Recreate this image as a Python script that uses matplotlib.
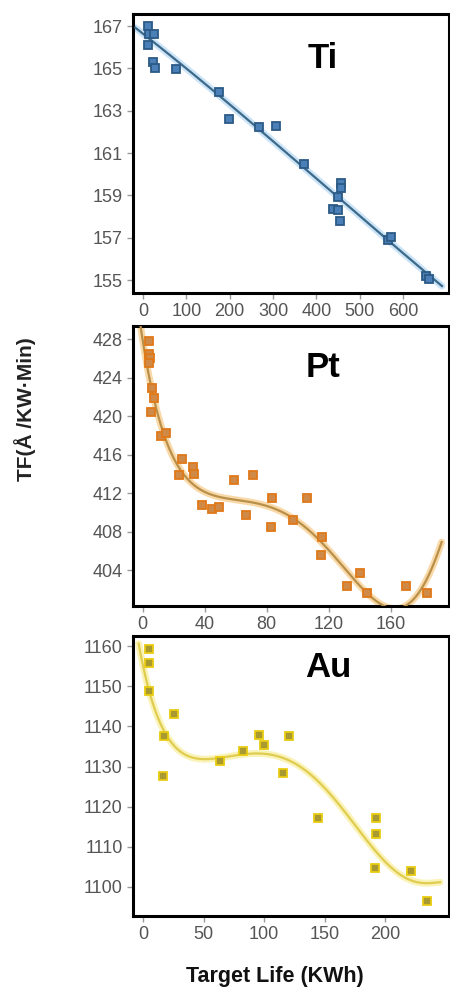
import matplotlib.pyplot as plt
import numpy as np

plt.rcParams['font.family'] = ['Liberation Sans', 'DejaVu Sans']

ti_x = [11.6, 14.7, 24.7, 11.6, 23, 27, 77, 175, 198, 268, 306, 372,
        457, 457, 449, 439, 449, 454, 565, 572, 654, 659]
ti_y = [167.0, 166.65, 166.65, 166.1, 165.3, 165.0, 164.95, 163.9, 162.6, 162.25, 162.28, 160.5,
        159.6, 159.35, 158.95, 158.35, 158.3, 157.8, 156.9, 157.05, 155.2, 155.05]
ti_fit_x = [-17.7, 17, 78.7, 171, 271.6, 372, 449, 519, 596, 690]
ti_fit_y = [167.2, 166.26, 165.0, 163.74, 162.3, 160.5, 159.0, 157.5, 156.1, 154.9]

# Pt panel
pt_x = [4.1, 4.1, 4.5, 4.1, 6.2, 7.3, 5.2, 11.8, 14.8, 25.2, 23.4, 32.3, 33.1, 38.5, 44.5,
        49.2, 59.1, 66.5, 71.0, 83.2, 82.8, 97.2, 106.2, 115.5, 114.8, 132, 140.2, 145,
        169.7, 183.7]
pt_y = [427.86, 426.5, 426.1, 425.6, 423.0, 421.9, 420.5, 418.0, 418.3, 415.6, 413.9, 414.75,
        414.05, 410.8, 410.4, 410.6, 413.4, 409.7, 413.9, 411.5, 408.5, 409.2, 411.5, 407.4,
        405.6, 402.3, 403.65, 401.6, 402.3, 401.6]
pt_fit_x = [-1.7, 2.6, 7.9, 13.3, 19.7, 28.4, 39.1, 52, 67.1, 82.1, 95, 105.8, 116.5,
            129.4, 142.3, 155.2, 163.9, 172.5, 183.2, 192.9]
pt_fit_y = [429.5, 426.0, 420.8, 418.0, 416.0, 413.9, 412.1, 411.3, 411.1, 410.75, 409.7,
            408.3, 406.6, 404.2, 402.1, 400.5, 399.9, 400.5, 403.1, 406.9]

# Au panel
au_x = [5.2, 5.2, 4.7, 25.9, 17.1, 16.2, 63.8, 82.3, 95.5, 100.4, 120.8, 115.3, 144.2,
        192.3, 192.3, 191.7, 221.2, 234.9]
au_y = [1159.4, 1155.7, 1148.8, 1143.0, 1137.6, 1127.6, 1131.3, 1133.9, 1137.8, 1135.3,
        1137.6, 1128.4, 1117.3, 1117.3, 1113.1, 1104.8, 1104.0, 1096.5]
au_fit_x = [-3.6, 0.5, 6.0, 14.3, 25.3, 39, 55.5, 66.5, 83, 102.3, 116, 132.5, 149,
            165.6, 182, 198.6, 215, 231.6, 245.4]
au_fit_y = [1161.1, 1154.4, 1147.0, 1140.3, 1136.1, 1133.3, 1131.6, 1131.3, 1132.8, 1133.6,
            1132.8, 1129.5, 1124.5, 1118.7, 1112.9, 1107.1, 1102.9, 1100.4, 1101.4]

panels = [
    dict(name='Ti', x=ti_x, y=ti_y, fx=ti_fit_x, fy=ti_fit_y, deg=3,
         rect=[0.2956, 0.7034, 0.702, 0.2824],
         xlim=(-23, 706), ylim=(154.39, 167.57), xt=np.arange(0, 601, 100), yt=np.arange(155, 168, 2),
         mface='#4a7fb8', medge='#2c5a85', lc='#3e6a8a', glow='#a9d2f2', lx=0.60, ly=0.84),
    dict(name='Pt', x=pt_x, y=pt_y, fx=pt_fit_x, fy=pt_fit_y, deg=7,
         rect=[0.2956, 0.387, 0.702, 0.283],
         xlim=(-6.3, 197.6), ylim=(400.3, 429.4), xt=np.arange(0, 161, 40), yt=np.arange(404, 429, 4),
         mface='#d08a48', medge='#e07818', lc='#b8904a', glow='#f8c070', lx=0.60, ly=0.85),
    dict(name='Au', x=au_x, y=au_y, fx=au_fit_x, fy=au_fit_y, deg=7,
         rect=[0.2956, 0.0732, 0.702, 0.283],
         xlim=(-8.25, 252.8), ylim=(1092.85, 1162.5), xt=np.arange(0, 201, 50), yt=np.arange(1100, 1161, 10),
         mface='#a89a30', medge='#e8cc10', lc='#e0cc50', glow='#f8ec88', lx=0.617, ly=0.886),
]

fig = plt.figure(figsize=(4.5, 9.88), dpi=100)

for p in panels:
    ax = fig.add_axes(p['rect'])
    coef = np.polyfit(p['fx'], p['fy'], p['deg'])
    xs = np.linspace(min(p['fx']), max(p['fx']), 400)
    ys = np.polyval(coef, xs)
    ax.plot(xs, ys, color=p['glow'], lw=5, alpha=0.6, solid_capstyle='round', zorder=2)
    ax.plot(xs, ys, color=p['lc'], lw=1.6, zorder=3)
    ax.plot(p['x'], p['y'], 's', ms=5.5, mfc=p['mface'], mec=p['medge'], mew=1.3, zorder=4)
    ax.set_xlim(*p['xlim'])
    ax.set_ylim(*p['ylim'])
    ax.set_xticks(p['xt'])
    ax.set_yticks(p['yt'])
    ax.tick_params(colors='#999999', labelcolor='#555555', labelsize=13, length=4, width=1)
    for s in ax.spines.values():
        s.set_linewidth(2.2)
        s.set_color('black')
    ax.text(p['lx'], p['ly'], p['name'], transform=ax.transAxes, fontsize=25,
            fontweight='bold', ha='center', va='center')

fig.text(0.056, 0.586, 'TF(Å /KW·Min)', rotation=90, fontsize=15, fontweight='bold',
         ha='center', va='center', color='#222222')
fig.text(0.611, 0.012, 'Target Life (KWh)', fontsize=15.5, fontweight='bold',
         ha='center', va='center', color='#111111')

fig.savefig('out.png', dpi=100)
